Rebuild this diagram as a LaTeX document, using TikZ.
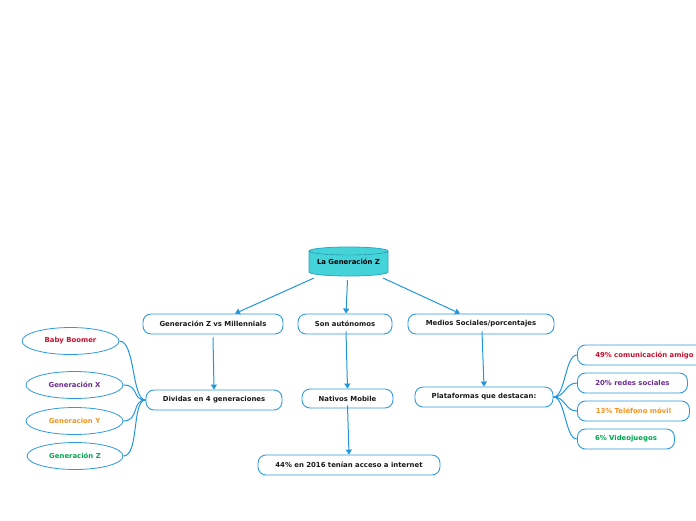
\documentclass[tikz,border=0pt]{standalone}
\usepackage{fontspec}
\setmainfont{DejaVu Sans}
\usetikzlibrary{arrows.meta}
\definecolor{lineblue}{HTML}{2196DE}
\definecolor{boxblue}{HTML}{2E9BDD}
\definecolor{cyanfill}{HTML}{44D3D8}
\definecolor{cylborder}{HTML}{2AA8C8}
\definecolor{cred}{HTML}{C8102E}
\definecolor{cpurple}{HTML}{6B2C91}
\definecolor{corange}{HTML}{F7941D}
\definecolor{cgreen}{HTML}{00A650}
\tikzset{
  txt/.style={font=\fontsize{6.9}{8}\selectfont\bfseries},
  topic/.style={txt, draw=boxblue, line width=0.9pt, rounded corners=8pt, fill=white,
    minimum height=20pt, inner sep=0pt, text=black!90},
  oval/.style={txt, draw=boxblue, line width=0.8pt, ellipse, fill=white,
    minimum height=27pt, inner sep=0pt},
  arr/.style={draw=lineblue, line width=1pt, -{Triangle[width=6pt,length=5pt]}},
  link/.style={draw=lineblue, line width=1pt},
}
\usetikzlibrary{shapes.geometric}
\begin{document}
\begin{tikzpicture}[x=1pt,y=-1pt]
\useasboundingbox (0,0) rectangle (696,520);
% root cylinder
\node[txt, minimum width=79pt, minimum height=29pt, inner sep=0pt] (root) at (348.5,261.5) {};
\fill[cyanfill, draw=cylborder, line width=0.8pt] (309,251) -- (309,272)
  arc[start angle=180, end angle=0, x radius=39.5, y radius=4] -- (388,251)
  arc[start angle=0, end angle=-180, x radius=39.5, y radius=4] -- cycle;
\draw[cylborder!80!black, line width=0.4pt] (309,251) arc[start angle=180, end angle=0, x radius=39.5, y radius=4];
\node[txt] at (348.5,262) {La Generación Z};

% level 1
\node[topic, minimum width=140pt] (gzm) at (213,324) {Generación Z vs Millennials};
\node[topic, minimum width=94pt] (son) at (345,324) {Son autónomos};
\node[topic, minimum width=146pt] (med) at (481,324) {Medios Sociales/porcentajes};

% level 2
\node[topic, minimum width=136pt] (div) at (214,400) {Dividas en 4 generaciones};
\node[topic, minimum width=91pt, minimum height=19pt] (nat) at (347.5,398.5) {Nativos Mobile};
\node[topic, minimum width=138pt] (pla) at (484,397) {Plataformas que destacan:};

% level 3
\node[topic, minimum width=182pt] (acc) at (349,465) {44\% en 2016 tenían acceso a internet};

% ovals
\node[oval, minimum width=97pt, text=cred] (bb) at (70.5,341) {Baby Boomer};
\node[oval, minimum width=97pt, text=cpurple] (gx) at (74.5,385) {Generación X};
\node[oval, minimum width=97pt, text=corange] (gy) at (74.5,421) {Generacion Y};
\node[oval, minimum width=96pt, text=cgreen] (gz) at (75,456) {Generación Z};

% right boxes
\node[topic, anchor=west, minimum width=134pt, text=cred] (p49) at (577,355) {49\% comunicación amigo};
\node[topic, anchor=west, minimum width=110pt, text=cpurple] (p20) at (577,383) {20\% redes sociales};
\node[topic, anchor=west, minimum width=112pt, text=corange] (p13) at (577,411) {13\% Teléfono móvil};
\node[topic, anchor=west, minimum width=97pt, text=cgreen] (p6) at (577,439) {6\% Videojuegos};

% connectors root -> level1
\coordinate (r1) at (314,278);
\coordinate (r2) at (347.5,280);
\coordinate (r3) at (383,278);
\draw[arr] (r1) -- (gzm.north -| 235,0);
\draw[arr] (r2) -- (son.north -| 346,0);
\draw[arr] (r3) -- (med.north -| 460,0);

% level1 -> level2
\draw[arr] (gzm.south) ++(0,3) -- (div.north);
\draw[arr] ([yshift=3pt]son.south -| 346,0) -- (nat.north);
\draw[arr] ([yshift=3pt]med.south -| 482,0) -- (pla.north);
\draw[arr] ([yshift=3pt]nat.south) -- (acc.north);

% curves left
\foreach \n in {bb,gx,gy,gz}{
  \draw[link] (div.west) .. controls +(-14,0) and +(16,0) .. (\n.east);
}
% curves right
\foreach \n in {p49,p20,p13,p6}{
  \draw[link] (pla.east) .. controls +(12,0) and +(-12,0) .. (\n.west);
}
\end{tikzpicture}
\end{document}
